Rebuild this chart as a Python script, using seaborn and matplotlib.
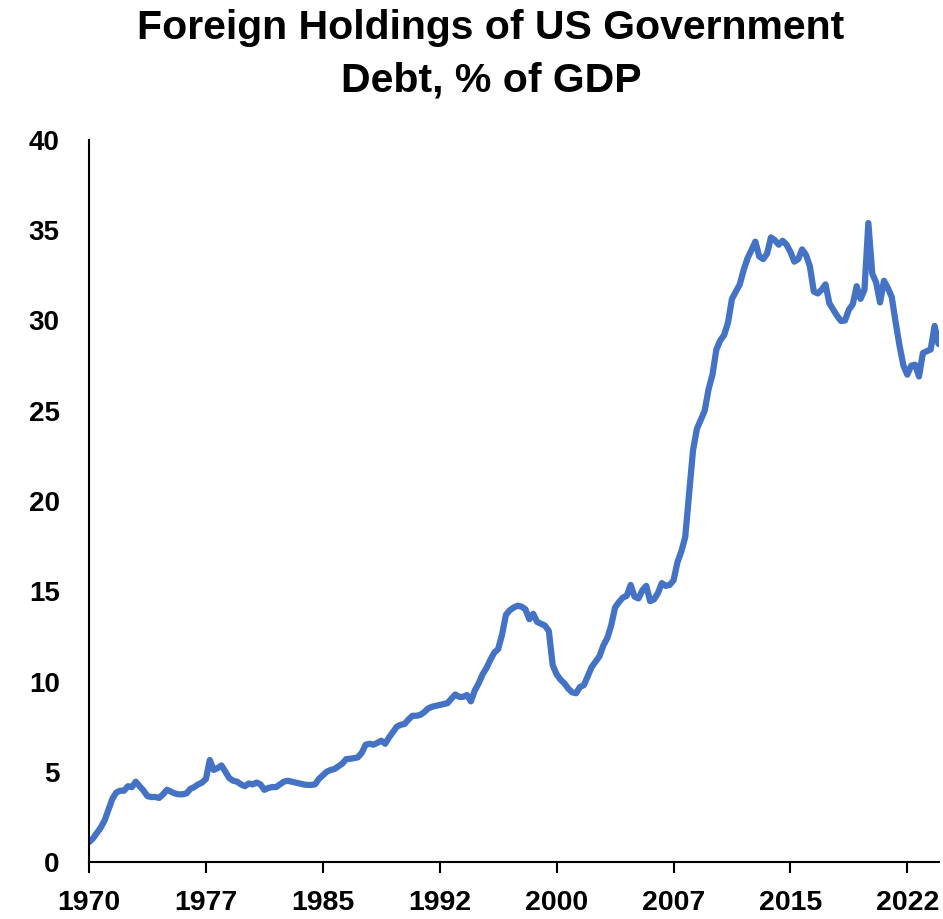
import matplotlib
matplotlib.use("Agg")
import matplotlib.pyplot as plt
import seaborn as sns
import pandas as pd
import numpy as np

# ---- data (quarterly, 1970Q1 .. 2024Q3), % of GDP ----
start_period = "1970Q1"
debt_pct_gdp = [
    1.1, 1.3, 1.6, 1.9,          # 1970
    2.3, 2.9, 3.5, 3.85,         # 1971
    3.95, 3.95, 4.2, 4.15,       # 1972
    4.45, 4.2, 3.95, 3.65,       # 1973
    3.6, 3.6, 3.55, 3.75,        # 1974
    4.0, 3.9, 3.8, 3.75,         # 1975
    3.75, 3.8, 4.05, 4.15,       # 1976
    4.3, 4.4, 4.6, 5.65,         # 1977
    5.1, 5.2, 5.35, 5.0,         # 1978
    4.65, 4.5, 4.45, 4.3,        # 1979
    4.2, 4.35, 4.3, 4.4,         # 1980
    4.3, 4.0, 4.1, 4.15,         # 1981
    4.15, 4.3, 4.45, 4.5,        # 1982
    4.45, 4.4, 4.35, 4.3,        # 1983
    4.27, 4.27, 4.3, 4.6,        # 1984
    4.8, 5.0, 5.1, 5.15,         # 1985
    5.3, 5.45, 5.7, 5.72,        # 1986
    5.75, 5.8, 6.05, 6.5,        # 1987
    6.55, 6.5, 6.6, 6.72,        # 1988
    6.55, 6.9, 7.2, 7.5,         # 1989
    7.6, 7.65, 7.9, 8.1,         # 1990
    8.1, 8.15, 8.3, 8.5,         # 1991
    8.6, 8.65, 8.7, 8.75,        # 1992
    8.8, 9.05, 9.28, 9.15,       # 1993
    9.15, 9.25, 8.9, 9.5,        # 1994
    9.9, 10.4, 10.75, 11.2,      # 1995
    11.6, 11.8, 12.6, 13.7,      # 1996
    13.95, 14.1, 14.2, 14.15,    # 1997
    14.0, 13.45, 13.75, 13.3,    # 1998
    13.2, 13.1, 12.8, 10.9,      # 1999
    10.4, 10.1, 9.9, 9.6,        # 2000
    9.4, 9.35, 9.7, 9.8,         # 2001
    10.3, 10.8, 11.1, 11.4,      # 2002
    12.0, 12.4, 13.1, 14.1,      # 2003
    14.4, 14.65, 14.75, 15.35,   # 2004
    14.7, 14.6, 15.05, 15.3,     # 2005
    14.45, 14.55, 14.9, 15.45,   # 2006
    15.3, 15.35, 15.6, 16.6,     # 2007
    17.2, 18.0, 20.4, 22.8,      # 2008
    24.0, 24.5, 25.0, 26.2,      # 2009
    27.0, 28.4, 28.9, 29.2,      # 2010
    29.9, 31.2, 31.6, 32.0,      # 2011
    32.8, 33.45, 33.9, 34.37,    # 2012
    33.55, 33.4, 33.7, 34.6,     # 2013
    34.45, 34.2, 34.42, 34.2,    # 2014
    33.8, 33.26, 33.4, 33.94,    # 2015
    33.63, 33.0, 31.6, 31.5,     # 2016
    31.7, 32.0, 30.95, 30.6,     # 2017
    30.25, 29.97, 30.0, 30.6,    # 2018
    30.9, 31.9, 31.2, 31.7,      # 2019
    35.4, 32.6, 32.1, 31.0,      # 2020
    32.2, 31.8, 31.3, 29.9,      # 2021
    28.6, 27.5, 27.0, 27.5,      # 2022
    27.55, 26.9, 28.2, 28.3,     # 2023
    28.4, 29.7, 28.7,            # 2024
]
x_tick_labels = ["1970", "1977", "1985", "1992", "2000", "2007", "2015", "2022"]
y_ticks = [0, 5, 10, 15, 20, 25, 30, 35, 40]
title_text = "Foreign Holdings of US Government\nDebt, % of GDP"

# ---- build frame ----
periods = pd.period_range(start=start_period, periods=len(debt_pct_gdp), freq="Q")
df = pd.DataFrame({"idx": np.arange(len(debt_pct_gdp)),
                   "period": periods.astype(str),
                   "value": debt_pct_gdp})

sns.set_theme(style="white")
FONT = ["Liberation Sans", "DejaVu Sans"]
plt.rcParams["font.family"] = FONT

W, H = 943, 919
fig = plt.figure(figsize=(W / 100, H / 100), dpi=100)
ax = fig.add_axes([89 / W, 1 - 862 / H, (938.5 - 89) / W, (862 - 140) / H])

sns.lineplot(data=df, x="idx", y="value", ax=ax, color="#4472C4",
             linewidth=4.5, solid_joinstyle="round", solid_capstyle="round")

n = len(debt_pct_gdp)
ax.set_xlim(0, n - 1)
ax.set_ylim(0, 40)
ax.set_yticks(y_ticks)
ax.set_yticklabels([str(v) for v in y_ticks])
tick_pos = [i * 30 for i in range(len(x_tick_labels))]
ax.set_xticks(tick_pos)
ax.set_xticklabels(x_tick_labels)

ax.set_xlabel("")
ax.set_ylabel("")
for side in ["top", "right"]:
    ax.spines[side].set_visible(False)
for side in ["left", "bottom"]:
    ax.spines[side].set_color("black")
    ax.spines[side].set_linewidth(1.5)

ax.tick_params(axis="y", length=0, pad=21, labelsize=20)
ax.tick_params(axis="x", length=8, width=1.5, direction="out", color="black",
               pad=12, labelsize=20.5, bottom=True)
for lab in ax.get_xticklabels() + ax.get_yticklabels():
    lab.set_fontweight("bold")
    lab.set_color("black")
ax.grid(False)

fig.text(491 / W, 1 - 9 / H, title_text, ha="center", va="top",
         fontsize=29.5, fontweight="bold", color="black", linespacing=1.5)

fig.savefig("out.png", dpi=100, facecolor="white")
